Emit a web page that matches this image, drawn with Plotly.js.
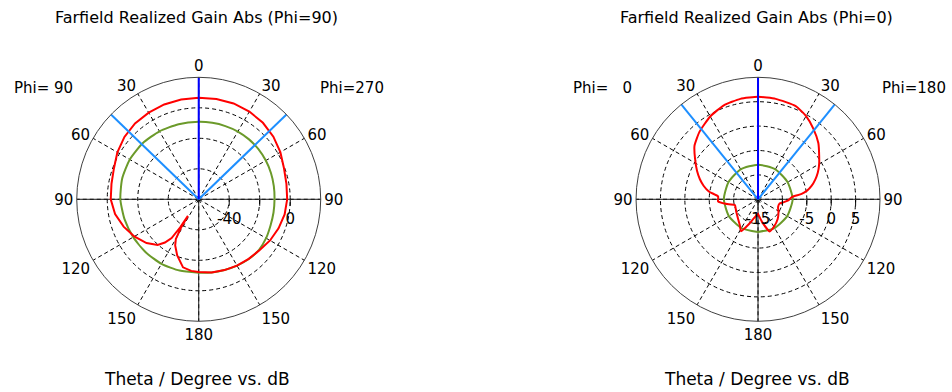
<!DOCTYPE html>
<html>
<head>
<meta charset="utf-8">
<script src="https://cdn.plot.ly/plotly-3.0.1.min.js"></script>
<style>
  html, body { margin: 0; padding: 0; background: #ffffff; }
  #chart { width: 952px; height: 392px; }
</style>
</head>
<body>
<div id="chart"></div>
<script>
// ---------------- DATA ----------------
// Angular tick labels (theta, symmetric on both halves)
const angTickVals = [0, 30, 60, 90, 120, 150, 180, 210, 240, 270, 300, 330];
const angTickText = ['0', '30', '60', '90', '120', '150', '180', '150', '120', '90', '60', '30'];

// Left chart: Farfield Realized Gain Abs (Phi=90) -- dB
const leftRange = [-60, 20];
const leftRadTicks = [-40, -20, 0];
const leftRadText = ['-40', '', '0'];
// Phi=270 half (right side of the chart)
const lRedTheta270 = [0, 10, 20, 30, 40, 50, 60, 70, 80, 90, 100, 110, 120, 130, 140, 150, 160, 170, 180];
const lRed270 = [6.6, 6.8, 6.9, 6.4, 5.5, 3.9, 1.8, -0.5, -1.6, -2.0, -2.8, -4.3, -6.0, -8.0, -9.0, -9.8, -10.6, -11.3, -12.3];
const lGreenTheta270 = [0, 10, 20, 30, 40, 50, 60, 70, 80, 90, 100, 110, 120, 130, 140, 150, 160, 170, 180];
const lGreen270 = [-9.2, -9.1, -8.9, -8.7, -8.7, -8.9, -9.2, -9.6, -10.0, -10.3, -10.2, -9.9, -9.0, -8.4, -8.9, -9.8, -10.6, -11.3, -11.9];
// Phi=90 half (left side of the chart)
const lRedTheta90 = [0, 10, 20, 30, 40, 50, 60, 70, 80, 90, 100, 110, 120, 130, 138, 142, 145, 146.5, 147, 148, 150, 153, 159, 167, 174, 180];
const lRed90 = [6.6, 6.5, 6.2, 5.6, 5.0, 3.6, 1.6, -0.8, -1.9, -2.3, -4.3, -7.6, -11.2, -15.3, -19.7, -24, -29, -38, -47, -38, -30, -26, -20.6, -14.2, -12.8, -12.3];
const lGreenTheta90 = [0, 15, 30, 45, 60, 75, 90, 105, 120, 135, 150, 165, 180];
const lGreen90 = [-9.2, -9.0, -8.5, -8.0, -7.8, -8.0, -8.6, -9.6, -10.4, -10.8, -11.1, -11.6, -11.9];
// Main lobe direction and 3 dB angular width edges (theta, deg)
const leftMainLobe = [0];
const leftBeamEdges = [-46, 46];

// Right chart: Farfield Realized Gain Abs (Phi=0) -- dB
const rightRange = [-15, 10];
const rightRadTicks = [-15, -10, -5, 0, 5];
const rightRadText = ['-15', '', '-5', '0', '5'];
// Phi=180 half (right side of the chart)
const rRedTheta180 = [0, 10, 22, 30, 38, 47, 55, 61, 66, 71, 76, 80, 83, 86, 92, 97, 101, 111, 123, 135, 150, 160, 170, 180];
const rRed180 = [6.0, 5.9, 5.6, 4.7, 3.4, 1.9, 0.3, -0.7, -1.6, -2.6, -3.7, -4.8, -6.0, -8.0, -8.8, -9.8, -10.5, -10.6, -10.0, -9.3, -8.5, -8.0, -10.3, -12.0];
const rGreenTheta180 = [0, 30, 60, 90, 120, 150, 180];
const rGreen180 = [-7.9, -7.9, -8.0, -7.9, -8.1, -8.2, -8.3];
// Phi=0 half (left side of the chart)
const rRedTheta0 = [0, 10, 20, 30, 41, 50, 57, 65, 71, 76, 81, 86, 93, 98, 104, 118, 132, 145, 152, 160, 170, 180];
const rRed0 = [6.0, 5.9, 5.5, 4.6, 3.3, 2.0, 0.4, -1.2, -2.4, -3.5, -4.8, -6.8, -6.8, -8.3, -10.1, -9.9, -9.4, -8.5, -7.6, -9.6, -11.3, -12.0];
const rGreenTheta0 = [0, 30, 60, 90, 120, 150, 180];
const rGreen0 = [-7.9, -7.9, -8.0, -8.0, -8.1, -8.2, -8.3];
const rightMainLobe = [0];
const rightBeamEdges = [-39, 39];

// ---------------- BUILD ----------------
const FONT = 'DejaVu Sans, Verdana, sans-serif';
const RED = '#ff0000', GREEN = '#6b9a2a', BLUE = '#0000ff', LBLUE = '#1e8fff';

// join the two half-cuts into one closed curve: right half theta 0..180, left half 180..0 drawn at 360-theta
function fullCut(thRight, vRight, thLeft, vLeft) {
  const th = thRight.slice();
  const r = vRight.slice();
  for (let i = thLeft.length - 1; i >= 0; i--) {
    th.push(360 - thLeft[i]);
    r.push(vLeft[i]);
  }
  return { theta: th, r: r };
}

function radialLines(angles, range) {
  const th = [], r = [];
  angles.forEach((a, i) => {
    if (i > 0) { th.push(null); r.push(null); }
    const d = ((a % 360) + 360) % 360;
    th.push(d, d); r.push(range[0], range[1]);
  });
  return { theta: th, r: r };
}

function crossHair(range) {
  return {
    theta: [90, 90, 270, null, 0, 0, 180],
    r: [range[1], range[0], range[1], null, range[1], range[0], range[1]]
  };
}

function makeTraces(sub, range, red, green, mainLobe, edges, redShape) {
  const ch = crossHair(range);
  const eb = radialLines(edges, range);
  const ml = radialLines(mainLobe, range);
  const base = { type: 'scatterpolar', mode: 'lines', subplot: sub, hoverinfo: 'skip', showlegend: false, connectgaps: false };
  return [
    Object.assign({}, base, { theta: ch.theta, r: ch.r, line: { color: '#1a1a1a', width: 1 } }),
    Object.assign({}, base, { theta: green.theta, r: green.r, line: { color: GREEN, width: 2, shape: 'spline', smoothing: 0.6 } }),
    Object.assign({}, base, { theta: red.theta, r: red.r, line: redShape }),
    Object.assign({}, base, { theta: eb.theta, r: eb.r, line: { color: LBLUE, width: 2 } }),
    Object.assign({}, base, { theta: ml.theta, r: ml.r, line: { color: BLUE, width: 2 } })
  ];
}

const leftRed = fullCut(lRedTheta270, lRed270, lRedTheta90, lRed90);
const leftGreen = fullCut(lGreenTheta270, lGreen270, lGreenTheta90, lGreen90);
const rightRed = fullCut(rRedTheta180, rRed180, rRedTheta0, rRed0);
const rightGreen = fullCut(rGreenTheta180, rGreen180, rGreenTheta0, rGreen0);

const traces = [].concat(
  makeTraces('polar', leftRange, leftRed, leftGreen, leftMainLobe, leftBeamEdges,
             { color: RED, width: 2 }),
  makeTraces('polar2', rightRange, rightRed, rightGreen, rightMainLobe, rightBeamEdges,
             { color: RED, width: 2, shape: 'spline', smoothing: 0.5 })
);

function polarLayout(xdom, range, rTicks, rText) {
  return {
    domain: { x: xdom, y: [0.1804, 0.8028] },
    bgcolor: '#ffffff',
    angularaxis: {
      rotation: 90, direction: 'clockwise',
      tickmode: 'array', tickvals: angTickVals, ticktext: angTickText,
      showgrid: true, gridcolor: '#000000', gridwidth: 1, griddash: '4px,3px',
      showline: true, linecolor: '#404040', linewidth: 1,
      ticks: '', tickfont: { family: FONT, size: 15, color: '#000000' }
    },
    radialaxis: {
      range: range, angle: 0, side: 'clockwise',
      tickmode: 'array', tickvals: rTicks, ticktext: rText,
      showgrid: true, gridcolor: '#000000', gridwidth: 1, griddash: '4px,3px',
      showline: false, ticks: 'outside', ticklen: 6, tickwidth: 1, tickcolor: '#000000',
      tickfont: { family: FONT, size: 15, color: '#000000' }
    }
  };
}

function ann(text, x, y, size) {
  return { text: text, x: x, y: y, xref: 'paper', yref: 'paper', xanchor: 'center', yanchor: 'middle',
           showarrow: false, font: { family: FONT, size: size, color: '#000000' } };
}

const layout = {
  width: 952, height: 392,
  margin: { l: 0, r: 0, t: 0, b: 0 },
  paper_bgcolor: '#ffffff',
  showlegend: false,
  polar: polarLayout([0.0806, 0.3369], leftRange, leftRadTicks, leftRadText),
  polar2: polarLayout([0.6681, 0.9244], rightRange, rightRadTicks, rightRadText),
  annotations: [
    ann('Farfield Realized Gain Abs (Phi=90)', 0.2069, 0.9566, 16),
    ann('Farfield Realized Gain Abs (Phi=0)', 0.795, 0.9566, 16),
    ann('Theta / Degree vs. dB', 0.2069, 0.0332, 17),
    ann('Theta / Degree vs. dB', 0.795, 0.0332, 17),
    ann('Phi=\u00a090', 0.0462, 0.7755, 15),
    ann('Phi=270', 0.3697, 0.7755, 15),
    ann('Phi=\u00a0\u00a0\u00a00', 0.6324, 0.7755, 15),
    ann('Phi=180', 0.960, 0.7755, 15)
  ]
};

Plotly.newPlot('chart', traces, layout, { staticPlot: true, displayModeBar: false });
</script>
</body>
</html>
